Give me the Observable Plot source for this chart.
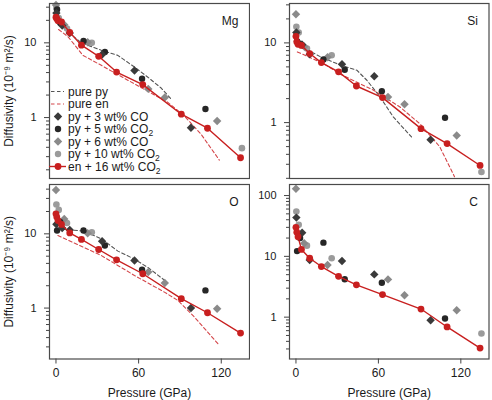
<!DOCTYPE html>
<html>
<head>
<meta charset="utf-8">
<script src="https://cdn.jsdelivr.net/npm/d3@7"></script>
<script src="https://cdn.jsdelivr.net/npm/@observablehq/plot@0.6"></script>
<style>
  body { margin: 0; background: #fff; }
  #fig { position: relative; width: 492px; height: 400px; background: #fff;
         font-family: "Liberation Sans", Arial, sans-serif; }
  #fig > div { position: absolute; }
</style>
</head>
<body>
<div id="fig"></div>
<script>
// ---- panels ----
const elementNames = ["Mg", "Si", "O", "C"];

// ---- en + 16 wt% CO2 (red line with points) ----
const pEn16   = [0, 0.6, 1.5, 4, 10, 18.5, 31, 44, 63, 91, 110, 134];
const en16Mg  = [22, 21, 19.8, 19, 13.8, 9.3, 6.6, 4.06, 2.76, 1.11, 0.72, 0.29];
const en16Si  = [12.1, 10.3, 9.6, 9.3, 7.35, 5.66, 4.33, 2.88, 2.06, 0.84, 0.545, 0.29];
const en16O   = [18.6, 16.8, 15.1, 13.4, 10.3, 8.4, 6.15, 4.47, 2.9, 1.34, 0.865, 0.46];
const en16C   = [30, 25, 21, 13, 9.3, 6.8, 4.7, 3.4, 2.35, 1.36, 0.69, 0.31];

// ---- py + 3 wt% CO (dark diamonds) ----
const pPy3CO   = [0.3, 4.5, 10, 33.5, 57, 98];
const py3COMg  = [25, 17, 13.5, 7.0, 4.27, 0.73];
const py3COSi  = [13.5, 9.5, 7.2, 5.4, 3.82, 0.61];
const py3COO   = [13.5, 12, 11.3, 7.96, 4.37, 1.0];
const py3COC   = [43.4, 24.5, 8.7, 8.4, 5.05, 0.89];

// ---- py + 5 wt% CO2 (dark circles) ----
const pPy5CO2  = [0.8, 3, 20, 35.5, 62.5, 108.5];
const py5CO2Mg = [28, 18.5, 10.6, 7.55, 3.3, 1.3];
const py5CO2Si = [10.5, 9.8, 6.2, 4.6, 2.47, 1.15];
const py5CO2O  = [11.1, 14.5, 11.1, 6.97, 3.28, 1.73];
const py5CO2C  = [12.2, 20, 16.8, 4.2, 3.68, 0.95];

// ---- py + 6 wt% CO (grey diamonds) ----
const pPy6CO   = [0, 6, 23, 67, 79, 117];
const py6COMg  = [32, 17.5, 10.2, 2.42, 1.86, 0.9];
const py6COSi  = [22.9, 9.0, 6.6, 2.1, 1.7, 0.69];
const py6COO   = [39, 15.9, 10.2, 3.05, 2.17, 0.98];
const py6COC   = [129, 16.4, 7.2, 4.18, 2.3, 1.3];

// ---- py + 10 wt% CO2 (grey circles) ----
const pPy10CO2  = [0.3, 2, 8, 26, 135];
const py10CO2Mg = [29, 21.5, 15.5, 10, 0.39];
const py10CO2Si = [15.9, 13.5, 8.5, 7.0, 0.24];
const py10CO2O  = [24.8, 21, 14, 10.5, null];
const py10CO2C  = [54.5, 33, 15, 9.3, 0.54];

// ---- pure py (grey dashed) ----
const pPurePyMg = [0, 8.7, 18.4, 32.9, 44.9, 57, 66.7, 76.3, 83.6];
const purePyMg  = [20.6, 14.1, 10, 7.96, 6.8, 4.74, 3.47, 2.49, 1.77];
const pPurePySi = [0, 18, 32.5, 44.3, 51.6, 61.2, 70.8, 84.1];
const purePySi  = [9.8, 6.67, 5.25, 4.54, 3.4, 2.1, 1.18, 0.66];
const pPurePyO  = [0, 10, 20, 33, 45, 57, 67, 79];
const purePyO   = [11.7, 11.3, 10.9, 8.57, 5.85, 4.56, 3.49, 2.36];

// ---- pure en (red dashed) ----
const pPureEnMg = [1.9, 8.7, 19.6, 32.9, 57, 81.2, 93.2, 105.3, 118.6];
const pureEnMg  = [15.1, 12.1, 6.8, 5.0, 2.82, 1.6, 1.05, 0.6, 0.27];
const pPureEnSi = [1, 20.2, 32.3, 56.4, 75.7, 90.1, 104.6, 115.4];
const pureEnSi  = [7.7, 5.5, 4.05, 2.55, 1.57, 0.97, 0.5, 0.21];
const pPureEnO  = [1.4, 32.9, 57, 78.7, 88.4, 100.5, 118.6];
const pureEnO   = [9.5, 5.1, 2.75, 1.64, 1.27, 0.757, 0.315];

// ---- axes ----
const xTicks = [0, 60, 120];
const xDomain = [-4.7, 140.5];
const yMajorTicks = [1, 10, 100];
const yMajorLabels = ["1", "10", "100"];
const yDomainMg = [0.153, 33.6];
const yDomainSi = [0.199, 31.2];
const yDomainO  = [0.206, 46.2];
const yDomainC  = [0.205, 152];

const xLabel = "Pressure (GPa)";
const yLabel = "Diffusivity (10\u207B\u2079 m\u00B2/s)";

// ---- legend ----
const legendLabels = [
  ["pure py", ""], ["pure en", ""], ["py + 3 wt% CO", ""], ["py + 5 wt% CO", "2"],
  ["py + 6 wt% CO", ""], ["py + 10 wt% CO", "2"], ["en + 16 wt% CO", "2"]
];
const legendKinds = ["dashGrey", "dashRed", "diamondDark", "circleDark", "diamondGrey", "circleGrey", "redLine"];

// colours
const RED = "#c81f1f", RED_DASH = "#d4464a", GREY_DASH = "#555",
      DARK_D = "#3a3a3a", DARK_C = "#262626", GREY_D = "#8a8a8a", GREY_C = "#9b9b9b";

const rows = (P, D) => P.map((p, i) => ({P: p, D: D[i]})).filter(d => d.D != null);

const panelData = {
  Mg: {en16: en16Mg, py3: py3COMg, py5: py5CO2Mg, py6: py6COMg, py10: py10CO2Mg,
       purePy: rows(pPurePyMg, purePyMg), pureEn: rows(pPureEnMg, pureEnMg), yDomain: yDomainMg},
  Si: {en16: en16Si, py3: py3COSi, py5: py5CO2Si, py6: py6COSi, py10: py10CO2Si,
       purePy: rows(pPurePySi, purePySi), pureEn: rows(pPureEnSi, pureEnSi), yDomain: yDomainSi},
  O:  {en16: en16O, py3: py3COO, py5: py5CO2O, py6: py6COO, py10: py10CO2O,
       purePy: rows(pPurePyO, purePyO), pureEn: rows(pPureEnO, pureEnO), yDomain: yDomainO},
  C:  {en16: en16C, py3: py3COC, py5: py5CO2C, py6: py6COC, py10: py10CO2C,
       purePy: [], pureEn: [], yDomain: yDomainC}
};

// grid placement of the four panels
const layout = {
  Mg: {left: 0,   top: 0,   width: 250, height: 181, mL: 49, mR: 1,   mT: 3, mB: 3,    yAxisLabel: true,  xAxis: false},
  Si: {left: 250, top: 0,   width: 242, height: 181, mL: 39, mR: 3.5, mT: 3, mB: 3,    yAxisLabel: false, xAxis: false},
  O:  {left: 0,   top: 180, width: 250, height: 220, mL: 49, mR: 1,   mT: 4, mB: 41.5, yAxisLabel: true,  xAxis: true},
  C:  {left: 250, top: 180, width: 242, height: 220, mL: 39, mR: 3.5, mT: 4, mB: 41.5, yAxisLabel: false, xAxis: true}
};

function minorTicks([lo, hi]) {
  const out = [];
  for (let e = -2; e <= 3; e++) for (let m = 2; m <= 9; m++) {
    const v = m * 10 ** e;
    if (v >= lo && v <= hi) out.push(v);
  }
  return out;
}

const fig = document.getElementById("fig");

for (const el of elementNames) {
  const d = panelData[el], L = layout[el];
  const majors = yMajorTicks.filter(v => v >= d.yDomain[0] && v <= d.yDomain[1]);
  const marks = [
    Plot.line(d.purePy, {x: "P", y: "D", stroke: GREY_DASH, strokeWidth: 1.1, strokeDasharray: "3.5,2.5", clip: true}),
    Plot.line(d.pureEn, {x: "P", y: "D", stroke: RED_DASH, strokeWidth: 1.1, strokeDasharray: "3.5,2.5", clip: true}),
    Plot.dot(rows(pPy10CO2, d.py10), {x: "P", y: "D", r: 3.3, fill: GREY_C}),
    Plot.dot(rows(pPy6CO, d.py6), {x: "P", y: "D", r: 3.8, symbol: "diamond2", fill: GREY_D}),
    Plot.dot(rows(pPy5CO2, d.py5), {x: "P", y: "D", r: 3.2, fill: DARK_C}),
    Plot.dot(rows(pPy3CO, d.py3), {x: "P", y: "D", r: 3.8, symbol: "diamond2", fill: DARK_D}),
    Plot.line(rows(pEn16, d.en16), {x: "P", y: "D", stroke: RED, strokeWidth: 1.4}),
    Plot.dot(rows(pEn16, d.en16), {x: "P", y: "D", r: 3.4, fill: RED}),
    // minor ticks; this axis also carries the title
    Plot.axisY(minorTicks(d.yDomain), {
      tickSize: 3, tickFormat: () => "", stroke: "#444", fontSize: 12,
      label: L.yAxisLabel ? yLabel : null, labelAnchor: "center", labelArrow: "none", labelOffset: 45
    }),
    Plot.axisY(majors, {
      tickSize: 5, tickPadding: 8, fontSize: 11, stroke: "#444",
      tickFormat: v => yMajorLabels[yMajorTicks.indexOf(v)], label: null
    }),
    Plot.text([el], {text: t => t, frameAnchor: "top-right", dx: -11, dy: 18, fontSize: 12,
                     textAnchor: "end", lineAnchor: "middle"}),
    Plot.frame({stroke: "#4a4a4a", strokeWidth: 1.2})
  ];
  if (L.xAxis) {
    marks.push(Plot.axisX(xTicks, {
      tickSize: 5, tickPadding: 4, fontSize: 12, stroke: "#444",
      label: xLabel, labelAnchor: "center", labelArrow: "none", labelOffset: 38
    }));
  }
  const chart = Plot.plot({
    width: L.width, height: L.height,
    marginLeft: L.mL, marginRight: L.mR, marginTop: L.mT, marginBottom: L.mB,
    x: {domain: xDomain, axis: L.xAxis ? undefined : null},
    y: {type: "log", domain: d.yDomain},
    style: {fontFamily: "Liberation Sans, Arial, sans-serif", fontSize: "11px", background: "transparent", color: "#1a1a1a"},
    marks
  });
  const holder = document.createElement("div");
  holder.style.left = L.left + "px";
  holder.style.top = L.top + "px";
  holder.appendChild(chart);
  fig.appendChild(holder);
}

// legend inside the Mg panel
const legend = d3.create("svg")
  .attr("width", 250).attr("height", 181)
  .style("position", "absolute").style("left", "0px").style("top", "0px")
  .style("font-family", "Liberation Sans, Arial, sans-serif").style("font-size", "12px");

legendLabels.forEach(([main, sub], i) => {
  const g = legend.append("g").attr("transform", `translate(0,${91.5 + i * 12.5})`);
  const kind = legendKinds[i];
  if (kind === "dashGrey" || kind === "dashRed") {
    g.append("line").attr("x1", 51).attr("x2", 64).attr("y1", 0).attr("y2", 0)
      .attr("stroke", kind === "dashGrey" ? GREY_DASH : RED_DASH)
      .attr("stroke-width", 1.1).attr("stroke-dasharray", "3.5,2.5");
  } else if (kind === "redLine") {
    g.append("line").attr("x1", 49).attr("x2", 66).attr("y1", 0).attr("y2", 0)
      .attr("stroke", RED).attr("stroke-width", 1.4);
    g.append("circle").attr("cx", 58).attr("cy", 0).attr("r", 3.4).attr("fill", RED);
  } else if (kind.startsWith("diamond")) {
    g.append("path").attr("transform", "translate(58,0)")
      .attr("d", d3.symbol(d3.symbolDiamond2, Math.PI * 3.8 * 3.8)())
      .attr("fill", kind === "diamondDark" ? DARK_D : GREY_D);
  } else {
    g.append("circle").attr("cx", 58).attr("cy", 0).attr("r", 3.2)
      .attr("fill", kind === "circleDark" ? DARK_C : GREY_C);
  }
  const t = g.append("text").attr("x", 68).attr("y", 0).attr("dy", "0.35em").attr("fill", "#1a1a1a").text(main);
  if (sub) t.append("tspan").attr("font-size", "8.5px").attr("dy", "3").text(sub);
});
fig.appendChild(legend.node());
</script>
</body>
</html>
